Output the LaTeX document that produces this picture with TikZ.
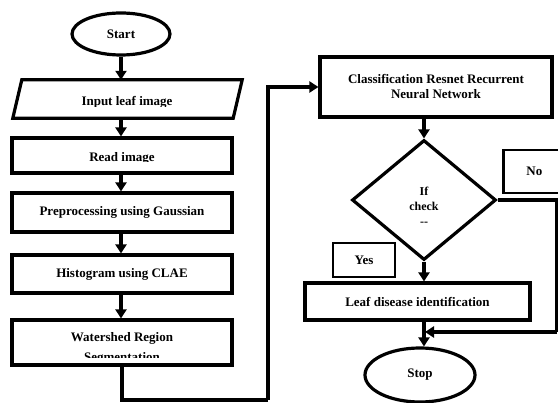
\documentclass[tikz,border=0pt]{standalone}
\usepackage{fontspec}
\setmainfont{Liberation Serif}
\usetikzlibrary{shapes.geometric,arrows.meta}
\begin{document}
\begin{tikzpicture}[x=1pt,y=-1pt,
  every node/.style={font=\bfseries\fontsize{13}{15}\selectfont},
  boxstyle/.style={draw,line width=3.2pt,rectangle,inner sep=0pt,align=center},
  termstyle/.style={draw,line width=3.2pt,ellipse,inner sep=0pt},
  linestyle/.style={line width=3.2pt},
  arrowstyle/.style={line width=3.2pt,-{Triangle[width=11pt,length=9pt]}},
  lblbox/.style={draw,line width=2.8pt,rectangle,inner sep=0pt}]
\useasboundingbox (0,0) rectangle (558,403);
% left column
\node[termstyle,minimum width=98pt,minimum height=42pt] (start) at (121,34) {Start};
\node[rectangle,inner sep=0pt,minimum width=220pt,minimum height=38pt] (inp) at (127.5,99) {};
\draw[line width=3.2pt,line join=miter] ([xshift=-4.5pt]inp.south west) -- ([xshift=4.5pt]inp.north west) -- ([xshift=4.5pt]inp.north east) -- ([xshift=-4.5pt]inp.south east) -- cycle;
\begin{scope}
\clip (20,82) rectangle (240,106.5);
\node at (127,102) {Input leaf image};
\end{scope}
\node[boxstyle,minimum width=220pt,minimum height=35pt] (read) at (122,155.5) {};
\begin{scope}
\clip (14,140) rectangle (230,162);
\node at (122,158) {Read image};
\end{scope}
\node[boxstyle,minimum width=220pt,minimum height=39pt] (pre) at (122,212.5) {Preprocessing using Gaussian};
\node[boxstyle,minimum width=220pt,minimum height=38pt] (hist) at (122,274) {Histogram using CLAE};
\node[boxstyle,minimum width=220pt,minimum height=45pt] (ws) at (122,342.5) {};
\node at (122,338) {Watershed Region};
\begin{scope}
\clip (14,322) rectangle (230,357.5);
\node at (122,358) {Segmentation};
\end{scope}
\draw[arrowstyle] (start) -- (start |- inp.north);
\draw[arrowstyle] (start |- inp.south) -- (start |- read.north);
\draw[arrowstyle] (start |- read.south) -- (start |- pre.north);
\draw[arrowstyle] (start |- pre.south) -- (start |- hist.north);
\draw[arrowstyle] (start |- hist.south) -- (start |- ws.north);
% right column
\node[boxstyle,minimum width=232pt,minimum height=60pt] (cls) at (436,87) {Classification Resnet Recurrent\\Neural Network};
\node[draw,line width=3.2pt,diamond,minimum width=144pt,minimum height=120pt,inner sep=0pt] (dec) at (424,200) {};
\node[align=center,font=\bfseries\fontsize{12}{15}\selectfont] (dectext) at (424,206) {If\\check\\{-}{-}};
\node[lblbox,minimum width=58pt,minimum height=43pt,anchor=west] (no) at (502,171.5) {\hspace*{4pt}No};
\node[lblbox,minimum width=62pt,minimum height=34pt] (yes) at (364,260) {Yes};
\node[boxstyle,minimum width=225pt,minimum height=37pt] (leaf) at (417.5,301.5) {Leaf disease identification};
\node[termstyle,minimum width=110pt,minimum height=54pt] (stop) at (420,375) {Stop};
\coordinate (c1) at (268,400);
\coordinate (c2) at (557,332);
\coordinate (c3) at (425,332);
\draw[linestyle] (ws.south) |- (c1);
\draw[arrowstyle] (c1) |- (cls.west);
\draw[arrowstyle] (dec |- cls.south) -- (dec.north);
\draw[arrowstyle] (dec.south) -- (dec |- leaf.north);
\draw[arrowstyle] (dec |- leaf.south) -- (dec |- stop.north);
\draw[linestyle] (dec.east) -| (c2);
\draw[arrowstyle] (c2) -- (c3);
\end{tikzpicture}
\end{document}
